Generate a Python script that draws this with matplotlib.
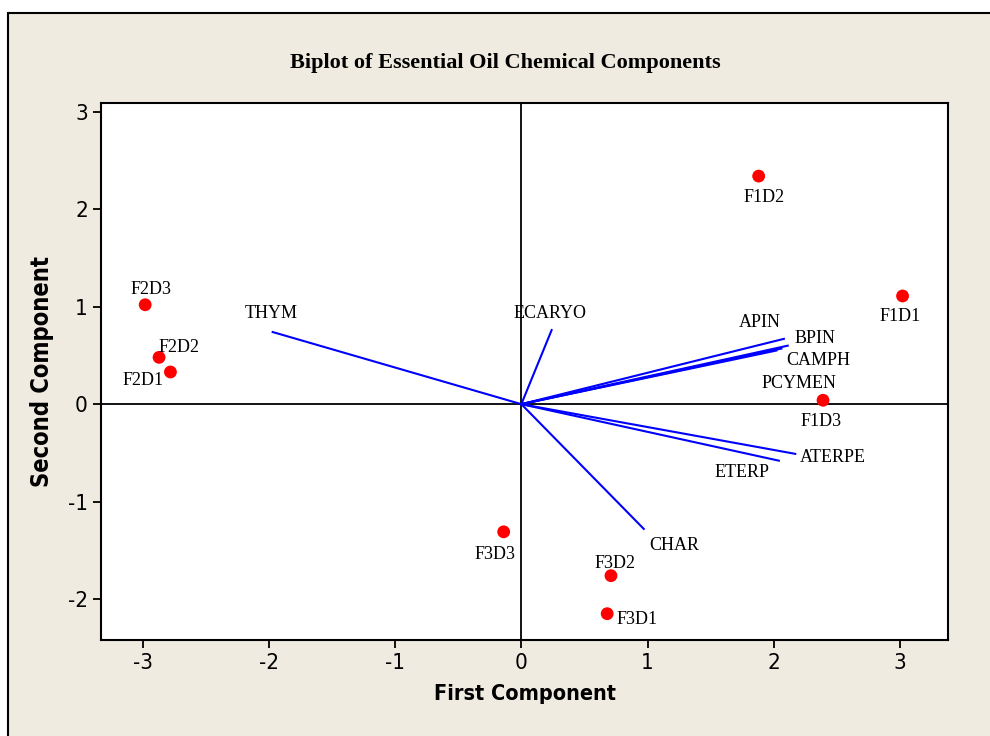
import numpy as np
import matplotlib.pyplot as plt
from matplotlib.patches import Rectangle

plt.rcParams['axes.unicode_minus'] = False

# scores (observations)
obs_names = ['F1D1', 'F1D2', 'F1D3', 'F2D1', 'F2D2', 'F2D3', 'F3D1', 'F3D2', 'F3D3']
obs_pc1 = [3.02, 1.88, 2.39, -2.78, -2.87, -2.98, 0.68, 0.71, -0.14]
obs_pc2 = [1.11, 2.34, 0.04, 0.33, 0.48, 1.02, -2.15, -1.76, -1.31]

# loadings (variables)
var_names = ['THYM', 'ECARYO', 'APIN', 'BPIN', 'CAMPH', 'PCYMEN', 'ATERPE', 'ETERP', 'CHAR']
var_pc1 = [-1.97, 0.24, 2.08, 2.11, 2.06, 2.02, 2.17, 2.04, 0.97]
var_pc2 = [0.74, 0.76, 0.67, 0.60, 0.57, 0.55, -0.51, -0.58, -1.28]

# label offsets in pixels (dx, dy)
obs_off = {'F1D1': (-2, -21), 'F1D2': (5, -21), 'F1D3': (-2, -21),
           'F2D1': (-27, -9), 'F2D2': (20, 10), 'F2D3': (6, 15),
           'F3D1': (30, -6), 'F3D2': (4, 12), 'F3D3': (-9, -23)}
var_off = {'THYM': (-1, 19), 'ECARYO': (-2, 17), 'APIN': (-24, 16),
           'BPIN': (27, 7), 'CAMPH': (37, -12), 'PCYMEN': (23, -33),
           'ATERPE': (38, -4), 'ETERP': (-37, -12), 'CHAR': (30, -17)}

bg = '#efebe1'
fig = plt.figure(figsize=(9.9, 7.36), dpi=100)
fig.patch.set_facecolor('white')
fig.patches.append(Rectangle((8 / 990, -0.05), 1.1, (736 - 13) / 736 + 0.05,
                             transform=fig.transFigure, facecolor=bg,
                             edgecolor='black', linewidth=1.5, zorder=-10))

ax = fig.add_axes([101 / 990, (736 - 640) / 736, 847 / 990, 537 / 736])
ax.set_facecolor('white')

ax.axhline(0, color='black', linewidth=1.3, zorder=1)
ax.axvline(0, color='black', linewidth=1.3, zorder=1)

for name, x, y in zip(var_names, var_pc1, var_pc2):
    ax.plot([0, x], [0, y], color='#0000ff', linewidth=1.5, zorder=2)
    dx, dy = var_off[name]
    ax.annotate(name, (x, y), xytext=(dx * 0.72, dy * 0.72), textcoords='offset points',
                ha='center', va='center', family='Liberation Serif', fontsize=13)

ax.scatter(obs_pc1, obs_pc2, s=85, color='#ff0000', zorder=3, edgecolors='none')
for name, x, y in zip(obs_names, obs_pc1, obs_pc2):
    dx, dy = obs_off[name]
    ax.annotate(name, (x, y), xytext=(dx * 0.72, dy * 0.72), textcoords='offset points',
                ha='center', va='center', family='Liberation Serif', fontsize=13)

ax.set_xlim(-3.33, 3.38)
ax.set_ylim(-2.42, 3.09)
ax.set_xticks([-3, -2, -1, 0, 1, 2, 3])
ax.set_yticks([-2, -1, 0, 1, 2, 3])
ax.tick_params(direction='out', length=6, width=1.3, labelsize=16, top=False, right=False)
for lab in ax.get_xticklabels() + ax.get_yticklabels():
    lab.set_fontstretch('condensed')
for s in ax.spines.values():
    s.set_linewidth(1.5)

ax.set_xlabel('First Component', fontsize=15.5, fontweight='bold', fontstretch='condensed', labelpad=8)
ax.set_ylabel('Second Component', fontsize=17, fontweight='bold', fontstretch='condensed', labelpad=10)
fig.text(505 / 990, 1 - 63 / 736, 'Biplot of Essential Oil Chemical Components',
         ha='center', va='center', family='Liberation Serif', fontweight='bold', fontsize=16)

fig.savefig('out.png', dpi=100, facecolor=fig.get_facecolor())
